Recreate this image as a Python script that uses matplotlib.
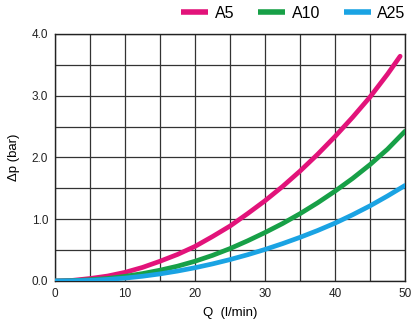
import matplotlib
matplotlib.use("Agg")
import matplotlib.pyplot as plt
from matplotlib.ticker import MultipleLocator

plt.rcParams['font.family'] = ['Liberation Sans', 'DejaVu Sans']

# Q (l/min) and pressure drop (bar)
q_a5 = [0, 2.5, 5, 7.5, 10, 12.5, 15, 17.5, 20, 22.5, 25, 27.5, 30, 32.5, 35,
        37.5, 40, 42.5, 45, 47.5, 49.3]
dp_a5 = [0.0, 0.01, 0.04, 0.08, 0.14, 0.22, 0.32, 0.43, 0.56, 0.72, 0.89, 1.09,
         1.30, 1.53, 1.78, 2.05, 2.34, 2.65, 2.98, 3.35, 3.64]

q_a10 = [0, 2.5, 5, 7.5, 10, 12.5, 15, 17.5, 20, 22.5, 25, 27.5, 30, 32.5, 35,
         37.5, 40, 42.5, 45, 47.5, 50]
dp_a10 = [0.0, 0.005, 0.02, 0.04, 0.075, 0.12, 0.175, 0.24, 0.32, 0.415, 0.525, 0.65,
          0.785, 0.93, 1.09, 1.265, 1.455, 1.66, 1.885, 2.135, 2.425]

q_a25 = [0, 2.5, 5, 7.5, 10, 12.5, 15, 17.5, 20, 22.5, 25, 27.5, 30, 32.5, 35,
         37.5, 40, 42.5, 45, 47.5, 50]
dp_a25 = [0.0, 0.003, 0.01, 0.025, 0.047, 0.077, 0.115, 0.161, 0.215, 0.277, 0.347, 0.425,
          0.511, 0.605, 0.707, 0.817, 0.937, 1.072, 1.217, 1.377, 1.547]

labels = ['A5', 'A10', 'A25']
colors = ['#e2137a', '#17a047', '#1aa3e3']

fig = plt.figure(figsize=(4.18, 3.25), dpi=100)
ax = fig.add_axes([0.1316, 0.1354, 0.8374, 0.76])

for q, dp, lab, col in zip([q_a5, q_a10, q_a25], [dp_a5, dp_a10, dp_a25], labels, colors):
    ax.plot(q, dp, color=col, lw=3.4, label=lab, solid_capstyle='round',
            solid_joinstyle='round', zorder=3)

ax.set_xlim(0, 50)
ax.set_ylim(0, 4.0)
ax.xaxis.set_major_locator(MultipleLocator(10))
ax.xaxis.set_minor_locator(MultipleLocator(5))
ax.yaxis.set_major_locator(MultipleLocator(1.0))
ax.yaxis.set_minor_locator(MultipleLocator(0.5))
ax.yaxis.set_major_formatter(plt.FormatStrFormatter('%.1f'))
ax.grid(which='both', color='#333333', lw=0.9)
ax.tick_params(which='both', length=0, labelsize=8.5, colors='#222222', pad=5)
for s in ax.spines.values():
    s.set_color('#222222')
    s.set_linewidth(1.0)

ax.set_xlabel('Q  (l/min)', fontsize=9.5, labelpad=5)
ax.set_ylabel('Δp (bar)', fontsize=9.5, labelpad=8)

leg = fig.legend(loc='upper right', bbox_to_anchor=(1.005, 1.027), ncol=3, frameon=False,
                 fontsize=11.5, handlelength=1.7, handletextpad=0.4, columnspacing=1.5)
for h in leg.get_lines():
    h.set_linewidth(4)
    h.set_solid_capstyle('butt')

fig.savefig('out.png', dpi=100)
